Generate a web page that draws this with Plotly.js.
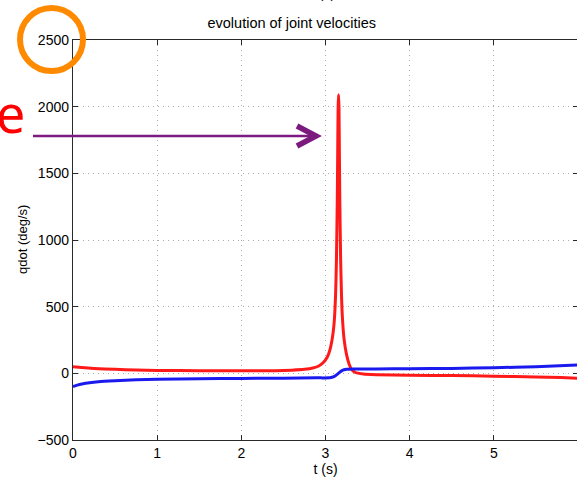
<!DOCTYPE html>
<html>
<head>
<meta charset="utf-8">
<script src="https://cdn.plot.ly/plotly-3.0.1.min.js"></script>
<style>
html, body { margin:0; padding:0; overflow:hidden; background:#fff; width:577px; height:480px; }
#chart { width:580px; height:480px; }
</style>
</head>
<body>
<div id="chart"></div>
<script>
// ---- data ----
var tRed = [0, 0.1, 0.25, 0.5, 0.75, 1, 1.5, 2, 2.4, 2.6, 2.75, 2.85, 2.92, 2.98, 3.02, 3.05, 3.08, 3.10, 3.11, 3.12, 3.13, 3.14, 3.145, 3.15, 3.155, 3.16, 3.165, 3.17, 3.18, 3.19, 3.2, 3.22, 3.25, 3.28, 3.31, 3.35, 3.45, 3.6, 4, 4.5, 5, 5.5, 5.8, 6];
var qdotRed = [50, 44, 37, 30, 25, 22, 20, 19, 20, 24, 30, 40, 55, 85, 120, 170, 260, 360, 450, 590, 850, 1300, 1650, 2000, 2090, 2000, 1650, 1300, 850, 590, 430, 260, 140, 70, 30, 8, -5, -10, -14, -17, -21, -27, -32, -37];
var tBlue = [0, 0.05, 0.15, 0.3, 0.5, 0.75, 1, 1.5, 2, 2.5, 2.9, 3.05, 3.1, 3.15, 3.2, 3.25, 3.35, 3.6, 4, 4.5, 5, 5.5, 6];
var qdotBlue = [-100, -88, -75, -63, -55, -48, -45, -41, -38, -36, -34, -33, -25, -2, 22, 30, 32, 33, 35, 37, 42, 50, 62];
var xTicks = [0, 1, 2, 3, 4, 5, 6];
var yTicks = [-500, 0, 500, 1000, 1500, 2000, 2500];

// ---- overlay helpers (pixel -> paper) ----
var L = 73, R = 578, T = 40, B = 440;
function PX(px) { return (px - L) / (R - L); }
function PY(py) { return (B - py) / (B - T); }

var FONT = 'Liberation Sans, Arial, Helvetica, sans-serif';

var traces = [
  { x: tRed, y: qdotRed, mode: 'lines', line: { color: '#ff1a1a', width: 3, shape: 'spline', smoothing: 0.6 }, hoverinfo: 'skip' },
  { x: tBlue, y: qdotBlue, mode: 'lines', line: { color: '#1a1aee', width: 3, shape: 'spline', smoothing: 0.6 }, hoverinfo: 'skip' }
];

var axisCommon = {
  showline: true, linecolor: '#2a2a2a', linewidth: 1.2, mirror: 'ticks',
  ticks: 'inside', ticklen: 5, tickcolor: '#2a2a2a', tickwidth: 1,
  showgrid: true, gridcolor: '#aaa', gridwidth: 1, griddash: '1px,4px',
  zeroline: false, tickfont: { family: FONT, size: 14, color: '#000' }
};

var layout = {
  width: 580, height: 480, autosize: false,
  margin: { l: L, r: 580 - R, t: T, b: 480 - B },
  paper_bgcolor: '#fff', plot_bgcolor: '#fff',
  showlegend: false,
  title: { text: 'evolution of joint velocities', font: { family: FONT, size: 14.5, color: '#000' },
           x: PX(327), xanchor: 'center', y: 1 - 23 / 480, yanchor: 'middle' },
  xaxis: Object.assign({}, axisCommon, {
    range: [0, 6], tickvals: xTicks, ticktext: xTicks.map(String),
    title: { text: 't (s)', font: { family: FONT, size: 14, color: '#000' }, standoff: 1 }
  }),
  yaxis: Object.assign({}, axisCommon, {
    range: [-500, 2500], tickvals: yTicks, ticktext: yTicks.map(function (v) { return v < 0 ? '\u2212' + Math.abs(v) : String(v); })
  }),
  annotations: [
    { text: 'qdot (deg/s)', xref: 'paper', yref: 'paper', x: PX(22), y: PY(240), showarrow: false, textangle: -90,
      xanchor: 'center', yanchor: 'middle', font: { family: FONT, size: 13, color: '#000' } },
    { text: 't (s)', xref: 'paper', yref: 'paper', x: PX(323), y: PY(-7), showarrow: false,
      xanchor: 'center', yanchor: 'middle', font: { family: FONT, size: 14, color: '#000' } },
    { text: 'e', xref: 'paper', yref: 'paper', x: PX(27), y: PY(112), showarrow: false,
      xanchor: 'right', yanchor: 'middle', font: { family: 'Noto Sans, sans-serif', size: 52, color: '#ff0000' } }
  ],
  shapes: [
    { type: 'circle', xref: 'paper', yref: 'paper', layer: 'above',
      x0: PX(51.5 - 31.5), x1: PX(51.5 + 31.5), y0: PY(39.5 + 31.5), y1: PY(39.5 - 31.5),
      line: { color: '#ff8a00', width: 6 } },
    { type: 'line', xref: 'paper', yref: 'paper', layer: 'above',
      x0: PX(33), x1: PX(315), y0: PY(136), y1: PY(136),
      line: { color: '#7d1a80', width: 2.5 } },
    { type: 'path', xref: 'paper', yref: 'paper', layer: 'above',
      path: 'M' + PX(297) + ',' + PY(126) + ' L' + PX(316) + ',' + PY(136) + ' L' + PX(297) + ',' + PY(146),
      line: { color: '#7d1a80', width: 5.5 } }
  ]
};

Plotly.newPlot('chart', traces, layout, { staticPlot: true, displayModeBar: false });
</script>
</body>
</html>
